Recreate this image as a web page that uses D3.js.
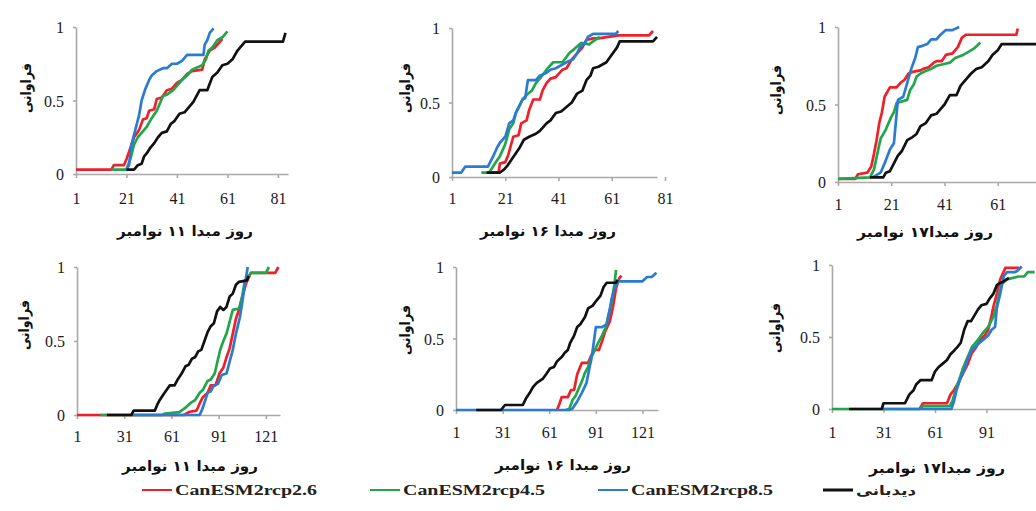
<!DOCTYPE html>
<html>
<head>
<meta charset="utf-8">
<script src="https://cdn.jsdelivr.net/npm/d3@7/dist/d3.min.js"></script>
<style>
  body { margin: 0; background: #fff; }
  svg { display: block; }
</style>
</head>
<body>
<div id="chart"></div>
<script>
// series names and colours
var seriesNames = ['CanESM2rcp2.6', 'CanESM2rcp4.5', 'CanESM2rcp8.5', 'دیدبانی'];
var seriesColors = ['#ee2029', '#22a64c', '#2b7cd0', '#111111'];

// top row, start day 11 Nov  ([day, frequency])
var top11_rcp26 = [[1,0.03],[15,0.03],[16,0.06],[20,0.06],[21,0.1],[22,0.15],[24,0.25],[26,0.3],[27.5,0.37],[29,0.38],[30,0.43],[32,0.44],[33,0.51],[35,0.52],[37,0.57],[39,0.58],[41,0.62],[43,0.64],[45,0.68],[47,0.7],[51,0.71],[52,0.78],[54,0.84],[56,0.86],[59,0.92]];
var top11_rcp45 = [[15,0.03],[21,0.03],[22.5,0.1],[24,0.2],[25.5,0.25],[27,0.28],[29,0.32],[31,0.38],[33,0.43],[35.5,0.53],[37,0.54],[39.5,0.57],[41,0.6],[43,0.64],[45,0.67],[47,0.71],[51,0.74],[52.5,0.78],[53.5,0.84],[55,0.86],[57,0.91],[59,0.93],[61,0.97]];
var top11_rcp85 = [[21,0.03],[22,0.06],[23,0.2],[24.5,0.3],[26,0.4],[27,0.5],[28.5,0.58],[30,0.64],[31,0.67],[33,0.7],[35.5,0.72],[37,0.72],[39,0.75],[41,0.75],[43,0.77],[45,0.81],[51.5,0.81],[52,0.88],[53,0.91],[54,0.96],[55.5,0.99]];
var top11_obs = [[21,0.03],[24,0.03],[25.5,0.06],[27,0.07],[28,0.12],[29,0.14],[30.5,0.18],[32,0.21],[33.5,0.25],[35,0.28],[37,0.29],[38.5,0.34],[40,0.36],[42,0.41],[44,0.42],[46,0.46],[47.5,0.49],[50,0.57],[53,0.57],[55,0.66],[57,0.69],[59,0.74],[61,0.75],[63,0.78],[65,0.84],[68,0.9],[83,0.9],[84,0.96]];

// top row, start day 16 Nov
var top16_rcp26 = [[14,0.03],[18.5,0.03],[19,0.09],[21,0.1],[22,0.14],[24,0.27],[26,0.28],[27,0.36],[29,0.38],[30,0.45],[31.5,0.52],[34,0.52],[35,0.58],[36.5,0.63],[38,0.66],[40,0.67],[42.5,0.72],[44,0.73],[46,0.79],[48,0.83],[50,0.87],[51.5,0.92],[54,0.93],[56,0.93],[63.5,0.95],[75,0.95],[76.5,0.98]];
var top16_rcp45 = [[12,0.03],[15,0.03],[17.5,0.1],[19,0.14],[21,0.22],[22.5,0.32],[24,0.36],[25,0.43],[27.5,0.52],[29,0.55],[31,0.58],[32.5,0.63],[34,0.66],[36.5,0.72],[39,0.77],[42.5,0.77],[45,0.83],[47,0.86],[49.5,0.9],[52.5,0.89],[54,0.91],[56.5,0.94]];
var top16_rcp85 = [[1,0.03],[4.5,0.03],[6,0.07],[14.5,0.07],[16.5,0.14],[18,0.2],[19,0.23],[21,0.27],[22.5,0.36],[24,0.38],[25,0.43],[27.5,0.52],[28.5,0.53],[29.5,0.65],[32.5,0.65],[34,0.68],[36.5,0.7],[38,0.72],[40,0.73],[42,0.75],[44,0.77],[46.5,0.79],[48,0.83],[49,0.87],[51,0.9],[52,0.94],[54,0.96],[62.5,0.96],[63.5,0.98]];
var top16_obs = [[14,0.03],[19,0.03],[20.5,0.05],[22,0.08],[23.5,0.12],[25,0.16],[26.5,0.2],[28,0.25],[30,0.27],[32.5,0.29],[34,0.31],[36.5,0.36],[38,0.38],[40,0.43],[42,0.44],[44,0.47],[46,0.5],[48,0.56],[50,0.58],[51.5,0.65],[53,0.68],[54,0.73],[56,0.74],[59,0.77],[61,0.82],[63,0.87],[64,0.91],[76.5,0.91],[78,0.94]];

// top row, start day 17 Nov
var top17_rcp26 = [[1,0.02],[7.5,0.02],[8.5,0.05],[12,0.06],[13.5,0.1],[14.5,0.18],[15.5,0.27],[16.5,0.38],[17.5,0.45],[18.5,0.55],[20.5,0.61],[23,0.61],[24.5,0.64],[26,0.66],[27.5,0.7],[29,0.71],[32,0.72],[33,0.73],[35,0.74],[37,0.77],[38,0.78],[40,0.78],[41.5,0.82],[44,0.83],[46,0.87],[47.5,0.93],[49,0.95],[68,0.95],[68.5,0.99]];
var top17_rcp45 = [[1,0.02],[13,0.03],[14.5,0.08],[16,0.2],[17,0.28],[19,0.34],[21,0.42],[22,0.45],[23,0.51],[25,0.52],[27,0.53],[28,0.59],[29.5,0.63],[30.5,0.68],[32,0.7],[34.5,0.72],[36,0.73],[38,0.75],[40.5,0.76],[43,0.77],[45,0.8],[48,0.82],[50,0.84],[52,0.86],[54.5,0.9]];
var top17_rcp85 = [[14,0.03],[17,0.06],[18.5,0.12],[20.5,0.21],[22,0.25],[23.5,0.53],[25.5,0.55],[27,0.64],[28.5,0.73],[30,0.8],[31,0.87],[33,0.88],[34.5,0.89],[36,0.92],[38,0.92],[39.5,0.95],[41.5,0.98],[44,0.98],[46.5,1.0]];
var top17_obs = [[13,0.03],[18,0.03],[19,0.06],[20.5,0.07],[22,0.12],[23.5,0.17],[25,0.2],[27,0.27],[29,0.29],[30.5,0.31],[32,0.36],[34,0.38],[36,0.43],[38,0.44],[39.5,0.47],[41,0.5],[43,0.56],[45.5,0.56],[47,0.62],[49,0.66],[51,0.7],[53,0.73],[55,0.74],[57.5,0.78],[59,0.82],[61,0.85],[62.5,0.89],[82,0.89]];

// bottom row, start day 11 Nov
var bot11_rcp26 = [[1,0],[69,0],[72,0.02],[77,0.03],[79,0.08],[81,0.12],[84,0.15],[86,0.2],[89,0.2],[91.5,0.28],[94,0.32],[96,0.39],[98,0.45],[100,0.55],[102,0.65],[104.5,0.73],[106,0.8],[108.5,0.89],[111.5,0.96],[127,0.96],[129,1.0]];
var bot11_rcp45 = [[16,0],[55,0],[57,0.01],[66,0.02],[70,0.05],[73,0.08],[76,0.1],[79,0.15],[81,0.17],[84,0.23],[86,0.24],[88.5,0.28],[90,0.35],[92,0.44],[94,0.5],[96,0.55],[98,0.63],[100,0.71],[104,0.72],[106,0.8],[107.5,0.9],[111.5,0.96],[121,0.96],[123,1.0]];
var bot11_rcp85 = [[36,0],[79,0],[81,0.05],[84,0.15],[86,0.16],[88,0.2],[90.5,0.21],[93,0.27],[96,0.28],[98,0.36],[100,0.44],[102,0.55],[104.5,0.66],[106,0.76],[107.5,0.87],[109.5,1.0]];
var bot11_obs = [[20,0],[35.5,0],[37,0.03],[50.5,0.03],[52,0.07],[53.5,0.1],[56,0.14],[58,0.17],[60,0.2],[63,0.2],[65,0.24],[67.5,0.28],[70,0.33],[72,0.34],[74,0.38],[76,0.39],[78,0.43],[80,0.44],[82,0.5],[84,0.56],[86,0.6],[88,0.62],[90,0.7],[92,0.73],[94,0.71],[96,0.73],[98,0.8],[100,0.82],[102,0.88],[104,0.9],[109,0.91],[110,0.94]];

// bottom row, start day 16 Nov
var bot16_rcp26 = [[66,0],[67.5,0.04],[69,0.09],[73,0.09],[75,0.14],[77,0.14],[79,0.25],[82,0.33],[86,0.33],[88,0.38],[90,0.42],[93,0.42],[95,0.48],[97,0.55],[100,0.62],[102,0.72],[104,0.85],[106,0.92],[107.5,0.94]];
var bot16_rcp45 = [[72,0],[74,0.01],[76,0.07],[78,0.1],[80,0.15],[82,0.2],[84,0.26],[86,0.3],[88,0.37],[90,0.41],[92.5,0.47],[95,0.52],[97.5,0.58],[99,0.66],[101,0.75],[103,0.88],[104,0.98]];
var bot16_rcp85 = [[1,0],[74,0],[76,0.01],[78.5,0.05],[82,0.12],[85,0.19],[87,0.3],[88,0.35],[89,0.42],[91,0.58],[95,0.58],[98,0.6],[100,0.7],[101,0.77],[103,0.85],[105,0.9],[121,0.9],[124,0.93],[127,0.93],[130,0.96]];
var bot16_obs = [[14,0],[30,0],[32.5,0.035],[44,0.035],[46,0.08],[48.5,0.12],[50.5,0.16],[53,0.19],[57,0.22],[59,0.25],[61.5,0.29],[64,0.3],[66,0.34],[69,0.37],[71,0.4],[73,0.42],[74.5,0.47],[77,0.52],[79,0.58],[81,0.6],[84,0.65],[86,0.71],[89,0.73],[91,0.76],[94,0.8],[96,0.86],[98,0.89],[104,0.89],[105,0.91]];

// bottom row, start day 17 Nov
var bot17_rcp26 = [[52,0],[54,0.04],[68,0.04],[70,0.1],[72,0.13],[74,0.17],[77.5,0.25],[80,0.31],[82.5,0.39],[85,0.43],[87,0.48],[90,0.51],[92,0.55],[94,0.65],[95,0.71],[97,0.8],[99,0.9],[102,0.98],[110,0.98]];
var bot17_rcp45 = [[1,0],[52,0],[54,0.02],[69.5,0.02],[71,0.05],[73,0.13],[75,0.2],[77.5,0.29],[80,0.36],[82.5,0.43],[86,0.48],[89,0.53],[92,0.57],[95,0.64],[97,0.72],[98,0.78],[100,0.87],[103,0.9],[109.5,0.92],[113,0.92],[115,0.95],[119,0.95]];
var bot17_rcp85 = [[30,0],[70.5,0],[72,0.05],[73.5,0.13],[76,0.22],[78,0.27],[80,0.35],[82.5,0.41],[86,0.45],[89,0.48],[92,0.51],[94,0.55],[96,0.57],[97,0.7],[99,0.8],[101,0.92],[103,0.95],[107.5,0.95],[109,0.96],[111.5,0.99]];
var bot17_obs = [[11,0],[30,0],[31,0.04],[43.5,0.04],[46,0.1],[48.5,0.13],[50,0.17],[52.5,0.2],[59,0.2],[61,0.26],[63,0.29],[65,0.31],[68,0.34],[70,0.38],[72.5,0.41],[74,0.43],[76,0.46],[78,0.55],[80,0.61],[82,0.61],[84,0.65],[86,0.69],[88,0.72],[91,0.73],[93,0.77],[95,0.8],[97,0.86],[98,0.87],[100,0.88],[104,0.91]];

var topTicks = [1, 21, 41, 61, 81];
var botTicks = [1, 31, 61, 91, 121];
var yTicks = [0, 0.5, 1];
var xTitles = ['روز مبدا ۱۱ نوامبر', 'روز مبدا ۱۶ نوامبر', 'روز مبدا۱۷ نوامبر'];
var yTitle = 'فراوانی';

// layout of the six small panels
var panels = [
    {dom: [1, 85],  xr: [76, 288],   yr: [174, 27],  ticks: topTicks, tickY: 204, title: xTitles[0], tx: 185, ty: 236, ytx: 26,  yty: 88,
     data: [top11_rcp26, top11_rcp45, top11_rcp85, top11_obs]},
    {dom: [1, 78],  xr: [452, 657],  yr: [177, 28],  ticks: topTicks, tickY: 204, title: xTitles[1], tx: 548, ty: 236, ytx: 405, yty: 88,
     data: [top16_rcp26, top16_rcp45, top16_rcp85, top16_obs]},
    {dom: [1, 81],  xr: [838, 1051], yr: [182, 27],  ticks: topTicks, tickY: 210, title: xTitles[2], tx: 925, ty: 237, ytx: 776, yty: 90,
     data: [top17_rcp26, top17_rcp45, top17_rcp85, top17_obs]},
    {dom: [1, 130], xr: [77, 280],   yr: [415, 267], ticks: botTicks, tickY: 442, title: xTitles[0], tx: 190, ty: 471, ytx: 24,  yty: 325,
     data: [bot11_rcp26, bot11_rcp45, bot11_rcp85, bot11_obs]},
    {dom: [1, 131], xr: [456, 658],  yr: [410, 267], ticks: botTicks, tickY: 438, title: xTitles[1], tx: 563, ty: 470, ytx: 405, yty: 330,
     data: [bot16_rcp26, bot16_rcp45, bot16_rcp85, bot16_obs]},
    {dom: [1, 121], xr: [832, 1038], yr: [409, 265], ticks: botTicks, tickY: 438, title: xTitles[2], tx: 937, ty: 473, ytx: 775, yty: 328,
     data: [bot17_rcp26, bot17_rcp45, bot17_rcp85, bot17_obs]}
];

var svg = d3.select('#chart').append('svg')
    .attr('width', 1036)
    .attr('height', 511);

panels.forEach(function(p) {
    var x = d3.scaleLinear().domain(p.dom).range(p.xr);
    var y = d3.scaleLinear().domain([0, 1]).range(p.yr);
    var g = svg.append('g');

    // ticks that fall past the page edge are left out, like the cropped original
    var shown = p.ticks.filter(function(t) { return x(t) < 1025; });

    // x axis
    var xa = g.append('g')
        .attr('transform', 'translate(0,' + p.yr[0] + ')')
        .call(d3.axisBottom(x).tickValues(shown).tickSize(4).tickSizeOuter(0));
    xa.selectAll('text')
        .attr('y', p.tickY - p.yr[0])
        .attr('dy', 0);

    // y axis
    var ya = g.append('g')
        .attr('transform', 'translate(' + p.xr[0] + ',0)')
        .call(d3.axisLeft(y).tickValues(yTicks).tickFormat(function(d) { return d; }).tickSize(3).tickSizeOuter(0));
    ya.selectAll('text').attr('x', -12).attr('dy', '0.35em');

    g.selectAll('.domain, .tick line')
        .attr('stroke', '#a9a9a9')
        .attr('stroke-width', 1.6);
    g.selectAll('.tick text')
        .attr('fill', '#1a1a1a')
        .attr('font-family', 'Liberation Serif')
        .attr('font-size', '16px');

    // curves
    var line = d3.line()
        .x(function(d) { return x(d[0]); })
        .y(function(d) { return y(d[1]); });

    p.data.forEach(function(s, i) {
        g.append('path')
            .attr('d', line(s))
            .attr('fill', 'none')
            .attr('stroke', seriesColors[i])
            .attr('stroke-width', 2.7)
            .attr('stroke-linejoin', 'round');
    });

    // axis titles
    g.append('text')
        .attr('x', p.tx)
        .attr('y', p.ty)
        .attr('text-anchor', 'middle')
        .attr('font-family', 'DejaVu Sans')
        .attr('font-weight', 'bold')
        .attr('font-size', '14px')
        .attr('fill', '#111')
        .attr('textLength', 136)
        .attr('lengthAdjust', 'spacingAndGlyphs')
        .text(p.title);

    g.append('text')
        .attr('transform', 'translate(' + p.ytx + ',' + p.yty + ') rotate(-90)')
        .attr('text-anchor', 'middle')
        .attr('dy', '0.35em')
        .attr('font-family', 'DejaVu Sans')
        .attr('font-weight', 'bold')
        .attr('font-size', '14px')
        .attr('fill', '#111')
        .attr('textLength', 50)
        .attr('lengthAdjust', 'spacingAndGlyphs')
        .text(yTitle);
});

// legend
var legX = [142, 370, 598, 823];
var legend = svg.append('g').attr('transform', 'translate(0,490)');
seriesNames.forEach(function(name, i) {
    legend.append('line')
        .attr('x1', legX[i]).attr('x2', legX[i] + 30)
        .attr('y1', 0).attr('y2', 0)
        .attr('stroke', seriesColors[i])
        .attr('stroke-width', i == 3 ? 3 : 2);
    legend.append('text')
        .attr('x', legX[i] + 33)
        .attr('y', 5)
        .attr('font-family', i == 3 ? 'DejaVu Sans' : 'Liberation Serif')
        .attr('font-weight', 'bold')
        .attr('font-size', i == 3 ? '13px' : '15px')
        .attr('fill', '#222')
        .attr('textLength', i == 3 ? 60 : 142)
        .attr('lengthAdjust', 'spacingAndGlyphs')
        .text(name);
});
</script>
</body>
</html>
